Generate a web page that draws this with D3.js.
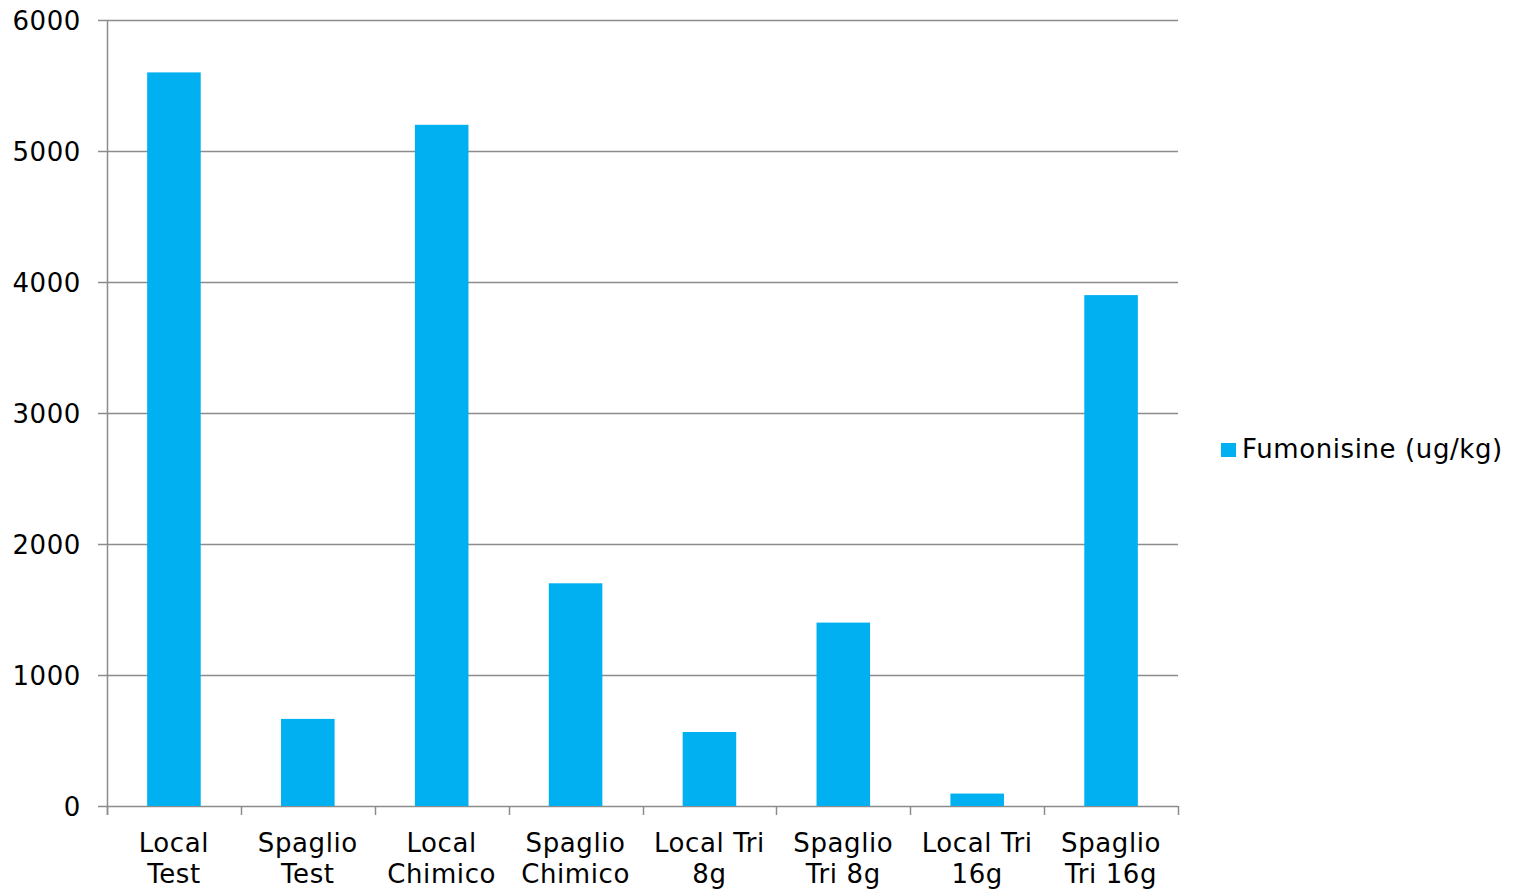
<!DOCTYPE html>
<html><head><meta charset="utf-8">
<script src="https://cdn.jsdelivr.net/npm/d3@7"></script>
<style>body{margin:0;background:#fff;} text{font-family:"DejaVu Sans",Verdana,sans-serif;letter-spacing:0.6px;}</style>
</head><body>
<svg id="c" width="1517" height="889"></svg>
<script>
const categories = ["Local Test","Spaglio Test","Local Chimico","Spaglio Chimico","Local Tri 8g","Spaglio Tri 8g","Local Tri 16g","Spaglio Tri 16g"];
const labelLines = [["Local","Test"],["Spaglio","Test"],["Local","Chimico"],["Spaglio","Chimico"],["Local Tri","8g"],["Spaglio","Tri 8g"],["Local Tri","16g"],["Spaglio","Tri 16g"]];
const values = [5600, 665, 5200, 1700, 565, 1400, 95, 3900];
const seriesName = "Fumonisine (ug/kg)";
const yTicks = [0,1000,2000,3000,4000,5000,6000];

(function(){
const svg = d3.select("#c");
const pLeft = 107, pRight = 1178, pTop = 20, pBottom = 806;
const gridColor = "#8c8c8c";
const fs = 26;

const y = d3.scaleLinear().domain([0,6000]).range([pBottom, pTop]);
const xb = d3.scaleBand().domain(categories).range([pLeft, pRight]).paddingInner(0.6).paddingOuter(0.3);
const xt = d3.scaleBand().domain(categories).range([pLeft, pRight]).padding(0);

svg.append("g").selectAll("line").data(yTicks).join("line")
  .attr("x1", pLeft - 9).attr("x2", pRight)
  .attr("y1", d => Math.round(y(d)) + 0.5).attr("y2", d => Math.round(y(d)) + 0.5)
  .attr("stroke", gridColor).attr("stroke-width", 1.5);

svg.append("line").attr("x1", pLeft + 0.5).attr("x2", pLeft + 0.5).attr("y1", pTop).attr("y2", pBottom + 9)
  .attr("stroke", gridColor).attr("stroke-width", 1.5);

svg.append("g").selectAll("text").data(yTicks).join("text")
  .attr("x", 81).attr("y", d => y(d) + 1).attr("dy", "0.35em")
  .attr("text-anchor", "end").attr("font-size", fs).attr("fill", "#000")
  .text(d => d);

svg.append("g").selectAll("rect").data(values).join("rect")
  .attr("x", (d,i) => xb(categories[i]))
  .attr("width", xb.bandwidth())
  .attr("y", d => y(d))
  .attr("height", d => y(0) - y(d))
  .attr("fill", "#00B0F0");

const bounds = categories.map(c => xt(c)).concat([pRight]);
svg.append("g").selectAll("line").data(bounds).join("line")
  .attr("x1", d => Math.round(d) + 0.5).attr("x2", d => Math.round(d) + 0.5)
  .attr("y1", pBottom).attr("y2", pBottom + 9)
  .attr("stroke", gridColor).attr("stroke-width", 1.5);

const xl = svg.append("g").selectAll("text").data(labelLines).join("text")
  .attr("text-anchor", "middle").attr("font-size", fs).attr("fill", "#000");
xl.each(function(lines, i) {
  const cx = xt(categories[i]) + xt.bandwidth()/2;
  d3.select(this).selectAll("tspan").data(lines).join("tspan")
    .attr("x", cx).attr("y", (d,j) => 852 + j*31).text(d => d);
});

svg.append("rect").attr("x", 1221).attr("y", 443).attr("width", 15).attr("height", 14).attr("fill", "#00B0F0");
svg.append("text").attr("x", 1242).attr("y", 458).attr("font-size", fs).attr("fill", "#000").text(seriesName);
})();
</script>
</body></html>
